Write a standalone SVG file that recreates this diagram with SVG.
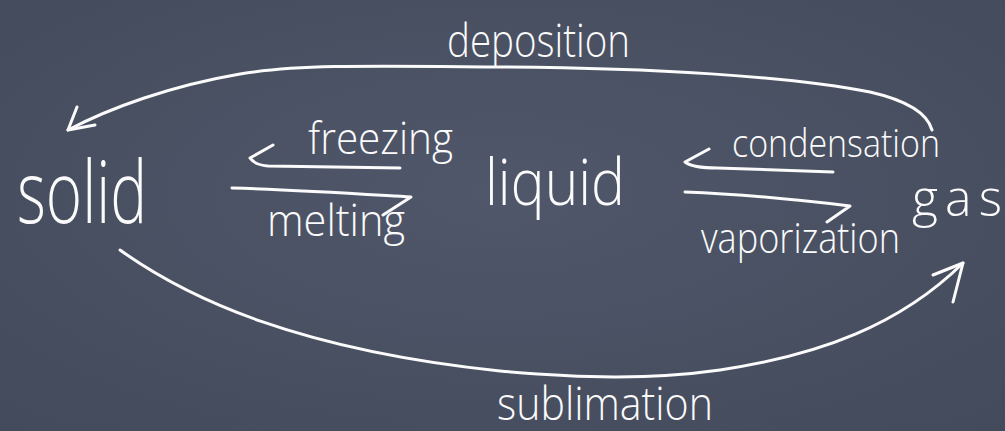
<svg xmlns="http://www.w3.org/2000/svg" width="1005" height="431" viewBox="0 0 1005 431">
  <defs>
    <radialGradient id="board" cx="50%" cy="45%" r="75%">
      <stop offset="0" stop-color="#50576a"/>
      <stop offset="1" stop-color="#434a5b"/>
    </radialGradient>
    <style>
      .chalk { fill: none; stroke: #fbfbfb; stroke-width: 3; stroke-linecap: round; stroke-linejoin: round; }
      .hand { fill: #fbfbfb; font-family: "Open Sans", "Lato", "DejaVu Sans", sans-serif; font-weight: 300; }
    </style>
  </defs>
  <rect width="1005" height="431" fill="url(#board)"/>

  <g id="connectors">
    <g id="deposition-arrow">
      <path class="chalk" d="M932,130 C927,112 905,100 870,92 C790,76 650,68 500,67 C380,66 300,64 240,74 C170,86 110,108 68,130"/>
      <path class="chalk" d="M77,107 L68,130 L95,125"/>
    </g>
    <g id="freezing-arrow">
      <path class="chalk" d="M273,145 L250,158 C254,163 258,165 268,166 L400,168"/>
    </g>
    <g id="melting-arrow">
      <path class="chalk" d="M232,188 C300,190 360,194 411,197 L383,215"/>
    </g>
    <g id="condensation-arrow">
      <path class="chalk" d="M709,149 L685,162 C690,166 700,168 717,168 L833,172"/>
    </g>
    <g id="vaporization-arrow">
      <path class="chalk" d="M685,192 C740,194 800,200 850,206 L827,222"/>
    </g>
    <g id="sublimation-arrow">
      <path class="chalk" d="M120,250 C190,300 300,350 500,371 C580,378 650,380 720,370 C820,355 900,325 963,263"/>
      <path class="chalk" d="M933,275 L963,263 L953,302"/>
    </g>
  </g>

  <g id="node-solid">
    <text class="hand" x="17" y="223" font-size="86" textLength="130" lengthAdjust="spacingAndGlyphs">solid</text>
  </g>
  <g id="node-liquid">
    <text class="hand" x="485" y="205" font-size="64" textLength="140" lengthAdjust="spacingAndGlyphs">liquid</text>
  </g>
  <g id="node-gas">
    <text class="hand" x="912" y="216" font-size="50" textLength="90" lengthAdjust="spacing">gas</text>
  </g>

  <g id="labels">
    <text class="hand" x="447" y="57" font-size="46" textLength="183" lengthAdjust="spacingAndGlyphs">deposition</text>
    <text class="hand" x="308" y="154" font-size="44" textLength="145" lengthAdjust="spacingAndGlyphs">freezing</text>
    <text class="hand" x="267" y="236" font-size="44" textLength="138" lengthAdjust="spacingAndGlyphs">melting</text>
    <text class="hand" x="732" y="157" font-size="38" textLength="208" lengthAdjust="spacingAndGlyphs">condensation</text>
    <text class="hand" x="701" y="253" font-size="42" textLength="199" lengthAdjust="spacingAndGlyphs">vaporization</text>
    <text class="hand" x="497" y="420" font-size="46" textLength="216" lengthAdjust="spacingAndGlyphs">sublimation</text>
  </g>
</svg>
